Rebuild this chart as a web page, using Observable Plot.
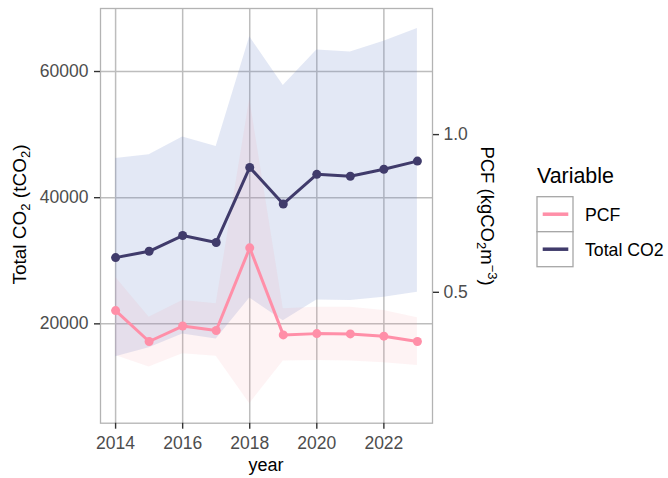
<!DOCTYPE html>
<html><head><meta charset="utf-8">
<script src="https://cdn.jsdelivr.net/npm/d3@7"></script>
<script src="https://cdn.jsdelivr.net/npm/@observablehq/plot@0.6"></script>
<style>
body{margin:0;background:#fff;}
#chart{position:relative;width:668px;height:478px;}
</style></head><body><div id="chart"></div>
<script>
// ---- data ----
const years = [2014, 2015, 2016, 2017, 2018, 2019, 2020, 2021, 2022, 2023];
const totalCO2 = [30500, 31500, 34000, 32900, 44800, 39000, 43700, 43400, 44500, 45800];
const totalLow = [14800, 16200, 18400, 17600, 24100, 20500, 23800, 23700, 24200, 25000];
const totalHigh = [46200, 46800, 49600, 48100, 65500, 57800, 63400, 63100, 64800, 66800];
const pcf = [0.442, 0.344, 0.393, 0.379, 0.641, 0.365, 0.369, 0.368, 0.361, 0.344];
const pcfLow = [0.300, 0.263, 0.305, 0.297, 0.147, 0.282, 0.284, 0.282, 0.277, 0.268];
const pcfHigh = [0.548, 0.421, 0.474, 0.464, 1.113, 0.448, 0.453, 0.453, 0.442, 0.419];
const xTicks = [2014, 2016, 2018, 2020, 2022];
const yTicks = [20000, 40000, 60000];
const pcfTicks = [0.5, 1.0];
const legendNames = ["PCF", "Total CO2"];
const pcfScale = 50000; // secondary axis: PCF = Total CO2 / 50000

const navy = "#403b6b", pink = "#ff8fa8";
const legendColors = [pink, navy];
const font = "'Liberation Sans', Arial, Helvetica, sans-serif";

const rows = years.map((y, i) => ({
  year: y, total: totalCO2[i], tLo: totalLow[i], tHi: totalHigh[i],
  pcf: pcf[i], pLo: pcfLow[i], pHi: pcfHigh[i]
}));

const axisStyle = {stroke: "#333", strokeWidth: 1.4, fill: "#4d4d4d", label: null};

const plot = Plot.plot({
  width: 668, height: 478,
  marginLeft: 100, marginRight: 236, marginTop: 8, marginBottom: 55.3,
  style: {fontFamily: font, fontSize: "17.5px", background: "#fff", overflow: "visible"},
  x: {domain: [2013.55, 2023.45], label: null},
  y: {domain: [4250, 69990], label: null},
  marks: [
    Plot.gridX(xTicks, {stroke: "#bdbdbd", strokeOpacity: 1, strokeWidth: 1.5}),
    Plot.gridY(yTicks, {stroke: "#bdbdbd", strokeOpacity: 1, strokeWidth: 1.5}),
    Plot.areaY(rows, {x: "year", y1: "tLo", y2: "tHi", fill: "#6a85c8", fillOpacity: 0.19}),
    Plot.areaY(rows, {x: "year", y1: d => d.pLo * pcfScale, y2: d => d.pHi * pcfScale, fill: "#f5939d", fillOpacity: 0.11}),
    Plot.line(rows, {x: "year", y: "total", stroke: navy, strokeWidth: 3}),
    Plot.dot(rows, {x: "year", y: "total", fill: navy, r: 4.5}),
    Plot.line(rows, {x: "year", y: d => d.pcf * pcfScale, stroke: pink, strokeWidth: 3}),
    Plot.dot(rows, {x: "year", y: d => d.pcf * pcfScale, fill: pink, r: 4.5}),
    Plot.frame({stroke: "#b3b3b3", strokeWidth: 1.3}),
    Plot.axisX(xTicks, {...axisStyle, tickSize: 6, tickPadding: 7, tickFormat: d => String(d)}),
    Plot.axisY(yTicks, {...axisStyle, anchor: "left", tickSize: 6, tickPadding: 6, tickFormat: d => String(d)}),
    Plot.axisY(pcfTicks.map(v => v * pcfScale), {...axisStyle, anchor: "right", tickSize: 6, tickPadding: 5, tickFormat: d => (d / pcfScale).toFixed(1)})
  ]
});

document.getElementById("chart").appendChild(plot);

// ---- titles and legend ----
const svg = d3.select(plot);
const g = svg.append("g").attr("font-family", font).attr("fill", "#000");

// x title
g.append("text").attr("x", 266).attr("y", 470.5).attr("text-anchor", "middle")
  .attr("font-size", 18).text("year");

// left title: Total CO2 (tCO2)
const lt = g.append("text").attr("transform", "translate(25.5,214.5) rotate(-90)")
  .attr("text-anchor", "middle").attr("font-size", 19);
lt.append("tspan").text("Total CO");
lt.append("tspan").attr("font-size", 13).attr("dy", 4).text("2");
lt.append("tspan").attr("dy", -4).text(" (tCO");
lt.append("tspan").attr("font-size", 13).attr("dy", 4).text("2");
lt.append("tspan").attr("dy", -4).text(")");

// right title: PCF (kgCO2 m^-3)
const rt = g.append("text").attr("transform", "translate(481,216) rotate(90)")
  .attr("text-anchor", "middle").attr("font-size", 18.5);
rt.append("tspan").text("PCF (kgCO");
rt.append("tspan").attr("font-size", 13).attr("dy", 4).text("2");
rt.append("tspan").attr("dy", -4).text("m");
rt.append("tspan").attr("font-size", 13).attr("dy", -7).text("\u22123");
rt.append("tspan").attr("dy", 7).text(")");

// legend
g.append("text").attr("x", 537).attr("y", 183.3).attr("text-anchor", "start")
  .attr("font-size", 21.4).text("Variable");
legendNames.forEach((name, i) => {
  const y0 = 196.7 + i * 35;
  g.append("rect").attr("x", 537).attr("y", y0).attr("width", 36).attr("height", 35)
    .attr("fill", "#fff").attr("stroke", "#a6a6a6").attr("stroke-width", 1.3);
  g.append("line").attr("x1", 542.7).attr("x2", 568.3).attr("y1", y0 + 17.5).attr("y2", y0 + 17.5)
    .attr("stroke", legendColors[i]).attr("stroke-width", 3.5);
  g.append("text").attr("x", 585).attr("y", y0 + 17.5 + 6.4).attr("text-anchor", "start")
    .attr("font-size", 17.7).text(name);
});
</script>
</body></html>
